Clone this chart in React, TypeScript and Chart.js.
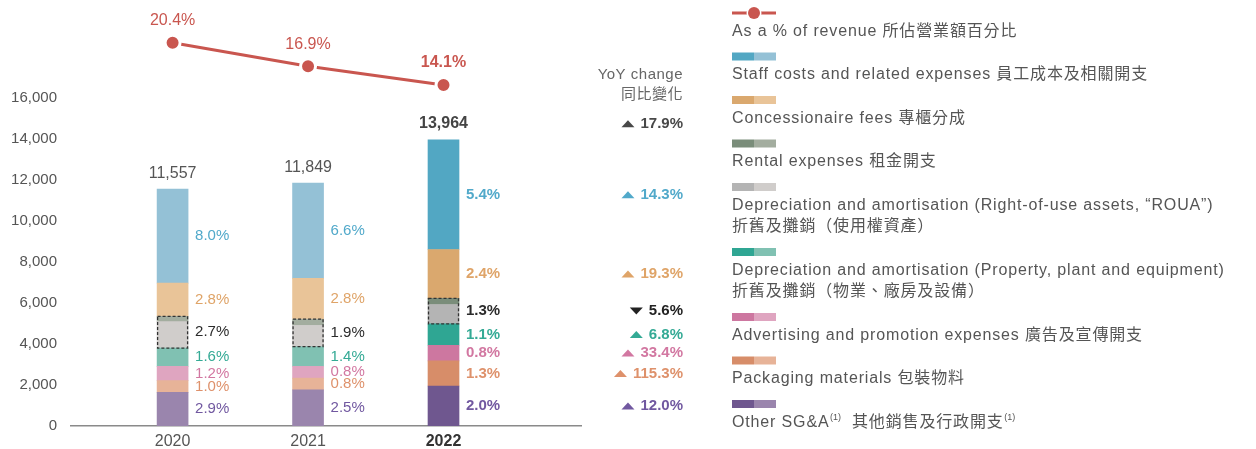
import React, { useEffect, useRef } from 'react';
import { Chart, registerables } from 'chart.js';

Chart.register(...registerables);

const FONT = '"Liberation Sans", "Noto Sans CJK TC", "DejaVu Sans", sans-serif';

// ---- data ----
const years = ['2020', '2021', '2022'];
const otherSGA = [1640, 1760, 1950];
const packaging = [570, 575, 1230];
const advertising = [700, 575, 760];
const depPPE = [890, 960, 1040];
const depROUA = [1290, 1040, 950];
const rental = [260, 300, 300];
const concessionaire = [1620, 1990, 2380];
const staffCosts = [4587, 4649, 5354];

const revenueShare = [20.4, 16.9, 14.1];

const pctOther = ['2.9%', '2.5%', '2.0%'];
const pctPackaging = ['1.0%', '0.8%', '1.3%'];
const pctAdvertising = ['1.2%', '0.8%', '0.8%'];
const pctPPE = ['1.6%', '1.4%', '1.1%'];
const pctRentalROUA = ['2.7%', '1.9%', '1.3%'];
const pctConcessionaire = ['2.8%', '2.8%', '2.4%'];
const pctStaff = ['8.0%', '6.6%', '5.4%'];

const yoyTotal = 17.9;
const yoyOther = 12.0;
const yoyPackaging = 115.3;
const yoyAdvertising = 33.4;
const yoyPPE = 6.8;
const yoyRentalROUA = -5.6;
const yoyConcessionaire = 19.3;
const yoyStaff = 14.3;

const yTickMax = 16000;
const yTickStep = 2000;

const legendLabels: string[][] = [
  ['As a % of revenue 所佔營業額百分比'],
  ['Staff costs and related expenses 員工成本及相關開支'],
  ['Concessionaire fees 專櫃分成'],
  ['Rental expenses 租金開支'],
  ['Depreciation and amortisation (Right-of-use assets, \u201cROUA\u201d)', '折舊及攤銷（使用權資產）'],
  ['Depreciation and amortisation (Property, plant and equipment)', '折舊及攤銷（物業、廠房及設備）'],
  ['Advertising and promotion expenses 廣告及宣傳開支'],
  ['Packaging materials 包裝物料'],
  ['Other SG&A^(1)  其他銷售及行政開支^(1)'],
];

// ---- series definitions (bottom to top) ----
type Series = {
  name: string;
  data: number[];
  light: string;
  dark: string;
  labelColor: string;
  pct?: string[];
  yoy?: number;
};

const series: Series[] = [
  { name: 'other', data: otherSGA, light: '#9A85AD', dark: '#6F578F', labelColor: '#7158A0', pct: pctOther, yoy: yoyOther },
  { name: 'packaging', data: packaging, light: '#E7B398', dark: '#D78D69', labelColor: '#DE916B', pct: pctPackaging, yoy: yoyPackaging },
  { name: 'advertising', data: advertising, light: '#DFA5C0', dark: '#CD77A0', labelColor: '#D277A1', pct: pctAdvertising, yoy: yoyAdvertising },
  { name: 'ppe', data: depPPE, light: '#80C1B2', dark: '#2FA693', labelColor: '#34AA95', pct: pctPPE, yoy: yoyPPE },
  { name: 'roua', data: depROUA, light: '#D0CDCB', dark: '#B4B4B4', labelColor: '#2b2b2b' },
  { name: 'rental', data: rental, light: '#A3AD9F', dark: '#7A8D7A', labelColor: '#2b2b2b' },
  { name: 'concessionaire', data: concessionaire, light: '#E9C498', dark: '#DAA86E', labelColor: '#DFA468', pct: pctConcessionaire, yoy: yoyConcessionaire },
  { name: 'staff', data: staffCosts, light: '#94C1D6', dark: '#52A7C3', labelColor: '#51A9CA', pct: pctStaff, yoy: yoyStaff },
];

const legendOrder = ['staff', 'concessionaire', 'rental', 'roua', 'ppe', 'advertising', 'packaging', 'other'];

const LINE_COLOR = '#C9564F';
const TEXT_GRAY = '#555555';

// layout geometry
const AREA_TOP = 20;
const AREA_BOTTOM = 428;
const TICK_TOP_PX = 96; // pixel of the 16,000 tick
const yMaxValue = (yTickMax * (AREA_BOTTOM - AREA_TOP)) / (AREA_BOTTOM - TICK_TOP_PX);
const PCT_PX = 6.8; // pixels per percentage point of the revenue line
const y2Min = revenueShare[0] - (AREA_BOTTOM - 40) / PCT_PX;
const y2Max = y2Min + (AREA_BOTTOM - AREA_TOP) / PCT_PX;

function tri(ctx: CanvasRenderingContext2D, right: number, cy: number, up: boolean, color: string) {
  const w = 13;
  const h = 7;
  ctx.fillStyle = color;
  ctx.beginPath();
  if (up) {
    ctx.moveTo(right - w, cy + h / 2);
    ctx.lineTo(right, cy + h / 2);
    ctx.lineTo(right - w / 2, cy - h / 2);
  } else {
    ctx.moveTo(right - w, cy - h / 2);
    ctx.lineTo(right, cy - h / 2);
    ctx.lineTo(right - w / 2, cy + h / 2);
  }
  ctx.closePath();
  ctx.fill();
}

function drawSup(ctx: CanvasRenderingContext2D, text: string, x: number, y: number) {
  const parts = text.split('^(1)');
  let cx = x;
  parts.forEach((p, i) => {
    ctx.font = `16px ${FONT}`;
    (ctx as any).letterSpacing = '0.85px';
    ctx.fillText(p, cx, y);
    cx += ctx.measureText(p).width;
    if (i < parts.length - 1) {
      ctx.font = `9px ${FONT}`;
      (ctx as any).letterSpacing = '0px';
      ctx.fillText('(1)', cx + 0.5, y - 5);
      cx += ctx.measureText('(1)').width + 1;
    }
  });
  (ctx as any).letterSpacing = '0px';
}

const overlayPlugin = {
  id: 'overlay',
  afterDatasetsDraw(chart: any) {
    const ctx: CanvasRenderingContext2D = chart.ctx;
    ctx.save();
    const idx = (n: string) => series.findIndex((s) => s.name === n);
    const el = (n: string, j: number) => chart.getDatasetMeta(idx(n)).data[j] as any;

    const segCenter = (j: number, lowName: string, highName: string) => {
      const lo = el(lowName, j);
      const hi = el(highName, j);
      return (lo.base + hi.y) / 2;
    };

    const totalYs: number[] = [];

    for (let j = 0; j < years.length; j++) {
      const bold = j === years.length - 1;
      const weight = bold ? 'bold ' : '';
      const lo = el('roua', j);
      const hi = el('rental', j);
      const w = lo.width;
      ctx.setLineDash([3, 2]);
      ctx.lineWidth = 1.3;
      ctx.strokeStyle = '#333';
      ctx.strokeRect(lo.x - w / 2 + 0.5, hi.y, w - 1, lo.base - hi.y);
      ctx.setLineDash([]);

      const labelX = lo.x + w / 2 + 7;
      ctx.textAlign = 'left';
      ctx.textBaseline = 'middle';
      ctx.font = `${weight}15px ${FONT}`;
      for (const s of series) {
        if (!s.pct) continue;
        const e = el(s.name, j);
        ctx.fillStyle = s.labelColor;
        ctx.fillText(s.pct[j], labelX, (e.y + e.base) / 2);
      }
      ctx.fillStyle = '#2b2b2b';
      ctx.fillText(pctRentalROUA[j], labelX, segCenter(j, 'roua', 'rental'));

      const top = el('staff', j);
      const total = series.reduce((a, s) => a + s.data[j], 0);
      const ty = top.y - 16;
      totalYs.push(ty);
      ctx.textAlign = 'center';
      ctx.font = `${weight}16px ${FONT}`;
      ctx.fillStyle = bold ? '#444' : TEXT_GRAY;
      ctx.fillText(total.toLocaleString('en-US'), top.x, ty);

      const lm = chart.getDatasetMeta(series.length).data[j] as any;
      ctx.fillStyle = LINE_COLOR;
      ctx.font = `${weight}16px ${FONT}`;
      ctx.fillText(`${revenueShare[j].toFixed(1)}%`, lm.x, lm.y - 22);
    }

    // YoY column
    const RX = 683;
    ctx.textAlign = 'right';
    ctx.textBaseline = 'middle';
    ctx.font = `15px ${FONT}`;
    ctx.fillStyle = '#666';
    (ctx as any).letterSpacing = '0.5px';
    ctx.fillText('YoY change', RX, 75);
    ctx.fillText('同比變化', RX, 95);
    (ctx as any).letterSpacing = '0px';

    const last = years.length - 1;
    const yoyItem = (v: number, y: number, color: string) => {
      const t = `${Math.abs(v).toFixed(1)}%`;
      ctx.font = `bold 15px ${FONT}`;
      ctx.fillStyle = color;
      ctx.textAlign = 'right';
      ctx.fillText(t, RX, y);
      const tw = ctx.measureText(t).width;
      tri(ctx, RX - tw - 6, y, v >= 0, color);
    };
    yoyItem(yoyTotal, totalYs[last], '#484848');
    for (const s of series) {
      if (s.yoy === undefined) continue;
      const e = el(s.name, last);
      yoyItem(s.yoy, (e.y + e.base) / 2, s.labelColor);
    }
    yoyItem(yoyRentalROUA, segCenter(last, 'roua', 'rental'), '#222');

    // Legend
    const LX = 732;
    let my = 13;
    ctx.textAlign = 'left';
    ctx.textBaseline = 'middle';
    legendLabels.forEach((lines, i) => {
      if (i === 0) {
        ctx.strokeStyle = LINE_COLOR;
        ctx.lineWidth = 3;
        ctx.beginPath();
        ctx.moveTo(LX, my);
        ctx.lineTo(LX + 44, my);
        ctx.stroke();
        ctx.beginPath();
        ctx.arc(LX + 22, my, 7.5, 0, Math.PI * 2);
        ctx.fillStyle = '#fff';
        ctx.fill();
        ctx.beginPath();
        ctx.arc(LX + 22, my, 6, 0, Math.PI * 2);
        ctx.fillStyle = LINE_COLOR;
        ctx.fill();
      } else {
        const s = series[idx(legendOrder[i - 1])];
        ctx.fillStyle = s.dark;
        ctx.fillRect(LX, my - 4, 22, 8);
        ctx.fillStyle = s.light;
        ctx.fillRect(LX + 22, my - 4, 22, 8);
      }
      let ty = my + 18.5;
      ctx.fillStyle = TEXT_GRAY;
      lines.forEach((ln, k) => {
        if (k > 0) ty += 21.5;
        drawSup(ctx, ln, LX, ty);
      });
      my = ty + 25;
    });

    ctx.restore();
  },
};

export default function App() {
  const ref = useRef<HTMLCanvasElement>(null);

  useEffect(() => {
    if (!ref.current) return;
    Chart.defaults.font.family = FONT;
    const datasets: any[] = series.map((s) => ({
      type: 'bar',
      label: s.name,
      data: s.data.map((v, i) => ({ x: i, y: v })),
      backgroundColor: s.data.map((_, i) => (i === years.length - 1 ? s.dark : s.light)),
      borderWidth: 0,
      barThickness: 31,
      stack: 'costs',
      yAxisID: 'y',
      order: 1,
    }));
    datasets.push({
      type: 'line',
      label: 'revenue',
      data: revenueShare.map((v, i) => ({ x: i, y: v })),
      yAxisID: 'y2',
      borderColor: LINE_COLOR,
      borderWidth: 3,
      pointRadius: 7.5,
      pointBackgroundColor: LINE_COLOR,
      pointBorderColor: '#ffffff',
      pointBorderWidth: 3,
      clip: false,
      order: 0,
      tension: 0,
    });

    const chart = new Chart(ref.current, {
      type: 'bar',
      data: { datasets },
      options: {
        responsive: false,
        animation: false,
        devicePixelRatio: 1,
        layout: { padding: { left: 0, right: 675, top: AREA_TOP, bottom: 0 } },
        plugins: { legend: { display: false }, tooltip: { enabled: false } },
        scales: {
          x: {
            type: 'linear',
            offset: false,
            min: -0.75,
            max: 3.015,
            stacked: true,
            grid: { display: false, drawTicks: false, offset: false },
            border: { display: true, color: '#8a8a8a', width: 1.5 },
            afterBuildTicks: (s: any) => {
              s.ticks = years.map((_, i) => ({ value: i }));
            },
            afterFit: (s: any) => {
              s.height = 449 - AREA_BOTTOM;
            },
            ticks: {
              padding: 6,
              autoSkip: false,
              maxRotation: 0,
              color: (c: any) => (c.index === years.length - 1 ? '#333' : '#555'),
              font: (c: any) => ({ size: 16, family: FONT, weight: c.index === years.length - 1 ? 'bold' : 'normal' }),
              callback: (v: any) => years[Number(v)] ?? '',
            },
          },
          y: {
            min: 0,
            max: yMaxValue,
            stacked: true,
            grid: { display: false, drawTicks: false },
            border: { display: false },
            afterBuildTicks: (s: any) => {
              const t: any[] = [];
              for (let v = 0; v <= yTickMax; v += yTickStep) t.push({ value: v });
              s.ticks = t;
            },
            afterFit: (s: any) => {
              s.width = 71;
            },
            ticks: {
              padding: 14,
              color: TEXT_GRAY,
              font: { size: 15, family: FONT },
              callback: (v: any) => Number(v).toLocaleString('en-US'),
            },
          },
          y2: {
            display: false,
            min: y2Min,
            max: y2Max,
            position: 'right',
          },
        },
      } as any,
      plugins: [overlayPlugin],
    } as any);
    return () => chart.destroy();
  }, []);

  return (
    <div style={{ position: 'absolute', left: 0, top: 0, width: 1256, height: 449, background: '#ffffff' }}>
      <canvas ref={ref} width={1256} height={449} style={{ display: 'block', width: 1256, height: 449 }} />
    </div>
  );
}
